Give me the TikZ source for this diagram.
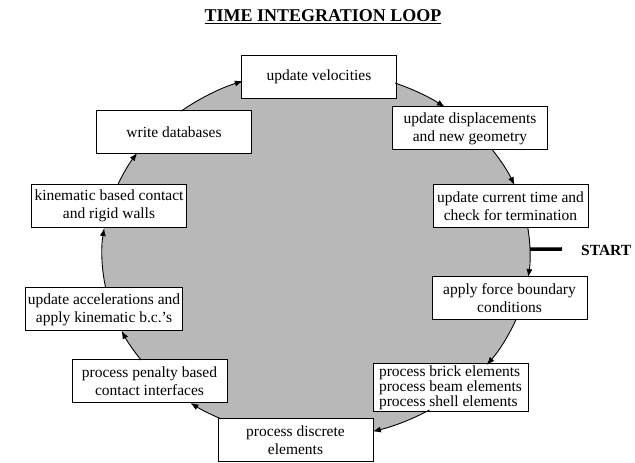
\documentclass[tikz,border=0pt]{standalone}
\usepackage{fontspec}
\setmainfont{Liberation Serif}
\usetikzlibrary{arrows.meta,calc}

\begin{document}
\begin{tikzpicture}[x=1pt,y=1pt,
        stage/.style={draw,rectangle,fill=white,line width=1pt,minimum width=155pt,minimum height=43pt,inner sep=2pt,align=center,font=\fontsize{15.5}{18}\selectfont},
        loopline/.style={line width=0.9pt,-{Latex[length=8pt,width=6pt]}}]
        \useasboundingbox (0,0) rectangle (635,463);

        % Title
        \node[font=\fontsize{18}{21}\selectfont\bfseries] (title) at (323,446) {\underline{TIME INTEGRATION LOOP}};

        % Loop background
        \coordinate (ctr) at (316,209);
        \fill[black!28] (ctr) ellipse[x radius=214pt, y radius=184pt];

        % Stages of the loop
        \node[stage] (vel) at (319,386) {update velocities};
        \node[stage] (disp) at (470,334.5) {update displacements\\and new geometry};
        \node[stage] (time) at (510.5,256.5) {update current time and\\check for termination};
        \node[stage] (force) at (509.5,165) {apply force boundary\\conditions};
        \node[stage,align=left,minimum height=45pt,font=\fontsize{15.5}{13.5}\selectfont] (elem) at (450.5,75.5) {process brick elements\\process beam elements\\process shell elements};
        \node[stage] (discrete) at (295.5,22.5) {process discrete\\elements};
        \node[stage] (penalty) at (149.5,81.5) {process penalty based\\contact interfaces};
        \node[stage] (accel) at (104,153.5) {update accelerations and\\apply kinematic b.c.'s};
        \node[stage] (kin) at (109,257) {kinematic based contact\\and rigid walls};
        \node[stage] (write) at (174,331) {write databases};

        % Arrows along the loop
        \foreach \s/\e in {68.3/53.0, 34.4/22.0, 8.1/-7.2, -20.7/-37.1, -58.0/-74.6,
                -116.3/-125.9, -144.8/-155.3, -169.4/-188.1, -202.4/-213.3, -231.0/-250.0} {
            \draw[loopline] (ctr) ++(\s:214pt and 184pt) arc[start angle=\s, end angle=\e, x radius=214pt, y radius=184pt];
        }

        % Start marker
        \coordinate (entry) at ($(ctr)+(1.5:214pt and 184pt)$);
        \node[font=\fontsize{15.5}{18}\selectfont\bfseries,anchor=west,inner sep=0pt] (start) at (581,213) {START};
        \draw[line width=3.5pt] (entry) -- ($(start.west)+(-19,1)$);
    \end{tikzpicture}
\end{document}
